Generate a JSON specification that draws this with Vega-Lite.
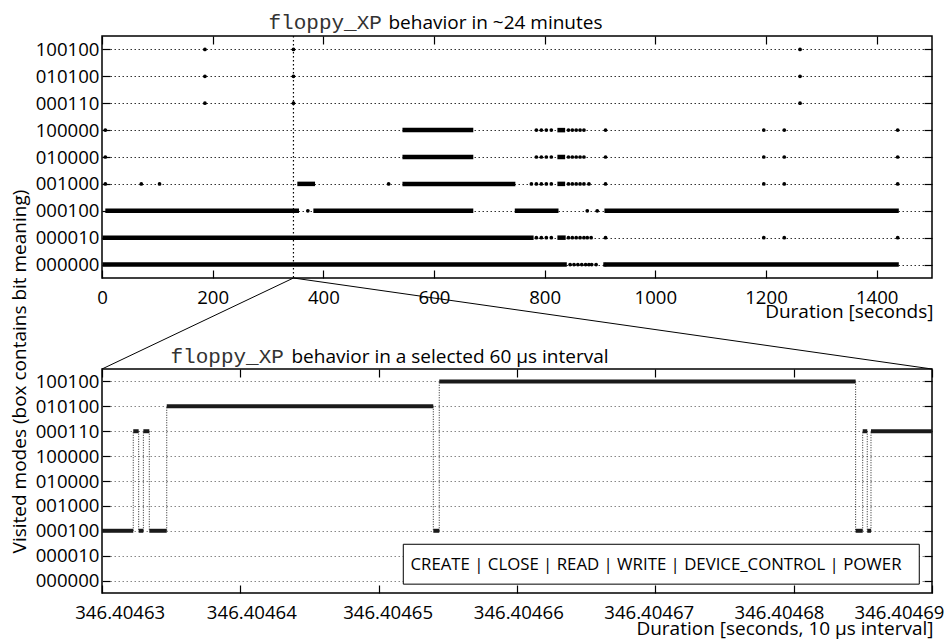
{
  "$schema": "https://vega.github.io/schema/vega-lite/v6.json",
  "background": "white",
  "padding": {"left": 9, "top": 10, "right": 4, "bottom": 4},
  "bounds": "flush",
  "spacing": 91,
  "config": {
    "font": "Open Sans",
    "view": {"stroke": "black", "strokeWidth": 1.5},
    "axis": {
      "domain": false, "grid": false, "labelFontSize": 18.6, "labelColor": "black",
      "titleFontSize": 19, "titleFontWeight": "normal", "titleColor": "black",
      "tickColor": "black", "tickSize": -8, "tickWidth": 1.2, "labelPadding": 11,
      "labelFlush": false, "labelOverlap": false
    },
    "axisX": {"labelPadding": 18.5}
  },
  "datasets": {
    "topBands": [
      {"mode": "100000", "start": 543, "end": 671},
      {"mode": "100000", "start": 823, "end": 837},
      {"mode": "010000", "start": 543, "end": 671},
      {"mode": "010000", "start": 823, "end": 837},
      {"mode": "001000", "start": 353, "end": 385},
      {"mode": "001000", "start": 543, "end": 747},
      {"mode": "001000", "start": 823, "end": 837},
      {"mode": "000100", "start": 6, "end": 356},
      {"mode": "000100", "start": 382, "end": 671},
      {"mode": "000100", "start": 746, "end": 825},
      {"mode": "000100", "start": 908, "end": 1440},
      {"mode": "000010", "start": 1, "end": 780},
      {"mode": "000010", "start": 823, "end": 838},
      {"mode": "000000", "start": 1, "end": 840},
      {"mode": "000000", "start": 906, "end": 1440}
    ],
    "topDots": [
      {"mode": "100100", "t": 186}, {"mode": "100100", "t": 346}, {"mode": "100100", "t": 1261.5},
      {"mode": "010100", "t": 186}, {"mode": "010100", "t": 346}, {"mode": "010100", "t": 1261.5},
      {"mode": "000110", "t": 186}, {"mode": "000110", "t": 346}, {"mode": "000110", "t": 1261.5},
      {"mode": "100000", "t": 6}, {"mode": "100000", "t": 785}, {"mode": "100000", "t": 794}, {"mode": "100000", "t": 803}, {"mode": "100000", "t": 812}, {"mode": "100000", "t": 843}, {"mode": "100000", "t": 850}, {"mode": "100000", "t": 857}, {"mode": "100000", "t": 864}, {"mode": "100000", "t": 871}, {"mode": "100000", "t": 910}, {"mode": "100000", "t": 1196}, {"mode": "100000", "t": 1233}, {"mode": "100000", "t": 1438},
      {"mode": "010000", "t": 6}, {"mode": "010000", "t": 785}, {"mode": "010000", "t": 794}, {"mode": "010000", "t": 803}, {"mode": "010000", "t": 812}, {"mode": "010000", "t": 843}, {"mode": "010000", "t": 850}, {"mode": "010000", "t": 857}, {"mode": "010000", "t": 864}, {"mode": "010000", "t": 871}, {"mode": "010000", "t": 910}, {"mode": "010000", "t": 1196}, {"mode": "010000", "t": 1233}, {"mode": "010000", "t": 1438},
      {"mode": "001000", "t": 6}, {"mode": "001000", "t": 71}, {"mode": "001000", "t": 104}, {"mode": "001000", "t": 518}, {"mode": "001000", "t": 776}, {"mode": "001000", "t": 785}, {"mode": "001000", "t": 794}, {"mode": "001000", "t": 803}, {"mode": "001000", "t": 812}, {"mode": "001000", "t": 843}, {"mode": "001000", "t": 850}, {"mode": "001000", "t": 857}, {"mode": "001000", "t": 864}, {"mode": "001000", "t": 871}, {"mode": "001000", "t": 880}, {"mode": "001000", "t": 910}, {"mode": "001000", "t": 1196}, {"mode": "001000", "t": 1233}, {"mode": "001000", "t": 1438},
      {"mode": "000100", "t": 372}, {"mode": "000100", "t": 877}, {"mode": "000100", "t": 895},
      {"mode": "000010", "t": 785}, {"mode": "000010", "t": 794}, {"mode": "000010", "t": 803}, {"mode": "000010", "t": 812}, {"mode": "000010", "t": 843}, {"mode": "000010", "t": 850}, {"mode": "000010", "t": 857}, {"mode": "000010", "t": 864}, {"mode": "000010", "t": 871}, {"mode": "000010", "t": 877}, {"mode": "000010", "t": 884}, {"mode": "000010", "t": 910}, {"mode": "000010", "t": 1196}, {"mode": "000010", "t": 1233}, {"mode": "000010", "t": 1438},
      {"mode": "000000", "t": 846}, {"mode": "000000", "t": 853}, {"mode": "000000", "t": 860}, {"mode": "000000", "t": 867}, {"mode": "000000", "t": 874}, {"mode": "000000", "t": 880}, {"mode": "000000", "t": 885}, {"mode": "000000", "t": 893}, {"mode": "000000", "t": 910}
    ],
    "segments": [
      {"mode": "000100", "start": 346.40463000, "end": 346.40463226},
      {"mode": "000110", "start": 346.40463226, "end": 346.40463265},
      {"mode": "000100", "start": 346.40463265, "end": 346.40463299},
      {"mode": "000110", "start": 346.40463299, "end": 346.40463342},
      {"mode": "000100", "start": 346.40463342, "end": 346.40463468},
      {"mode": "010100", "start": 346.40463468, "end": 346.40465395},
      {"mode": "000100", "start": 346.40465395, "end": 346.40465438},
      {"mode": "100100", "start": 346.40465438, "end": 346.40468448},
      {"mode": "000100", "start": 346.40468448, "end": 346.40468499},
      {"mode": "000110", "start": 346.40468499, "end": 346.40468532},
      {"mode": "000100", "start": 346.40468532, "end": 346.40468559},
      {"mode": "000110", "start": 346.40468559, "end": 346.40469000}
    ],
    "transitions": [
      {"t": 346.40463226, "from": "000100", "to": "000110"},
      {"t": 346.40463265, "from": "000110", "to": "000100"},
      {"t": 346.40463299, "from": "000100", "to": "000110"},
      {"t": 346.40463342, "from": "000110", "to": "000100"},
      {"t": 346.40463468, "from": "000100", "to": "010100"},
      {"t": 346.40465395, "from": "010100", "to": "000100"},
      {"t": 346.40465438, "from": "000100", "to": "100100"},
      {"t": 346.40468448, "from": "100100", "to": "000100"},
      {"t": 346.40468499, "from": "000100", "to": "000110"},
      {"t": 346.40468532, "from": "000110", "to": "000100"},
      {"t": 346.40468559, "from": "000100", "to": "000110"}
    ]
  },
  "vconcat": [
    {
      "width": 830,
      "height": 242,
      "layer": [
        {
          "data": {"name": "topBands"},
          "mark": {"type": "rule", "strokeWidth": 4.5, "color": "black"},
          "encoding": {
            "x": {
              "field": "start", "type": "quantitative",
              "scale": {"domain": [0, 1500], "nice": false, "zero": false},
              "axis": {
                "orient": "bottom", "values": [0, 200, 400, 600, 800, 1000, 1200, 1400], "format": "d",
                "title": "Duration [seconds]", "titleX": 831, "titleY": 39,
                "titleAlign": "right", "titleBaseline": "alphabetic"
              }
            },
            "x2": {"field": "end"},
            "y": {
              "field": "mode", "type": "ordinal",
              "scale": {"type": "point", "domain": ["100100", "010100", "000110", "100000", "010000", "001000", "000100", "000010", "000000"], "padding": 0.5},
              "axis": {
                "orient": "left", "grid": true, "gridColor": "#333", "gridDash": [1.5, 2.5], "gridWidth": 1,
                "title": "Visited modes (box contains bit meaning)", "titleX": -77, "titleY": 335,
                "titleAngle": 270, "titleAlign": "center", "titleBaseline": "alphabetic"
              }
            }
          }
        },
        {
          "data": {"name": "topDots"},
          "mark": {"type": "circle", "size": 14, "color": "black", "opacity": 1},
          "encoding": {
            "x": {
              "field": "t", "type": "quantitative",
              "axis": {
                "orient": "top", "values": [0, 200, 400, 600, 800, 1000, 1200, 1400], "labels": false,
                "title": "floppy_XP", "titleFont": "Liberation Mono", "titleFontSize": 21, "titleColor": "#333",
                "titleX": 166, "titleY": -8, "titleAlign": "left", "titleBaseline": "alphabetic"
              }
            },
            "y": {"field": "mode", "type": "ordinal", "axis": {"orient": "right", "labels": false, "title": null}}
          }
        },
        {
          "data": {"values": [{}]},
          "mark": {"type": "rule", "color": "black", "strokeDash": [1.5, 2.5], "strokeWidth": 1.2},
          "encoding": {
            "x": {
              "datum": 346, "type": "quantitative",
              "axis": {
                "orient": "top", "ticks": false, "labels": false,
                "title": "behavior in ~24 minutes", "titleX": 286, "titleY": -8,
                "titleAlign": "left", "titleBaseline": "alphabetic"
              }
            }
          }
        },
        {
          "data": {"values": [{}]},
          "mark": {"type": "rule", "color": "black", "strokeWidth": 1},
          "encoding": {
            "x": {"datum": 346, "type": "quantitative", "axis": null},
            "x2": {"datum": 0},
            "y": {"value": 242},
            "y2": {"value": 333}
          }
        },
        {
          "data": {"values": [{}]},
          "mark": {"type": "rule", "color": "black", "strokeWidth": 1},
          "encoding": {
            "x": {"datum": 346, "type": "quantitative", "axis": null},
            "x2": {"datum": 1500},
            "y": {"value": 242},
            "y2": {"value": 333}
          }
        }
      ],
      "resolve": {"axis": {"x": "independent", "y": "independent"}}
    },
    {
      "width": 830,
      "height": 224,
      "layer": [
        {
          "data": {"name": "segments"},
          "mark": {"type": "rule", "strokeWidth": 4, "color": "#1a1a1a"},
          "encoding": {
            "x": {
              "field": "start", "type": "quantitative",
              "scale": {"domain": [346.40463, 346.40469], "nice": false, "zero": false},
              "axis": {
                "orient": "bottom", "values": [346.40463, 346.40464, 346.40465, 346.40466, 346.40467, 346.40468, 346.40469],
                "format": ".5f",
                "title": "Duration [seconds, 10 μs interval]", "titleX": 831, "titleY": 41,
                "titleAlign": "right", "titleBaseline": "alphabetic",
                "labelOffset": {
                  "condition": [
                    {"test": "datum.value < 346.404635", "value": 17.7},
                    {"test": "datum.value < 346.404645", "value": 11},
                    {"test": "datum.value < 346.404655", "value": 9},
                    {"test": "datum.value < 346.404665", "value": 1.3},
                    {"test": "datum.value < 346.404675", "value": -6.6},
                    {"test": "datum.value < 346.404685", "value": -14.7}
                  ],
                  "value": -33
                }
              }
            },
            "x2": {"field": "end"},
            "y": {
              "field": "mode", "type": "ordinal",
              "scale": {"type": "point", "domain": ["100100", "010100", "000110", "100000", "010000", "001000", "000100", "000010", "000000"], "padding": 0.5},
              "axis": {"orient": "left", "grid": true, "gridColor": "#888", "gridDash": [1.5, 2.5], "gridWidth": 1, "title": null}
            }
          }
        },
        {
          "data": {"name": "transitions"},
          "mark": {"type": "rule", "strokeDash": [1, 1.5], "strokeWidth": 1, "color": "#222"},
          "encoding": {
            "x": {
              "field": "t", "type": "quantitative",
              "axis": {
                "orient": "top", "values": [346.40463, 346.40464, 346.40465, 346.40466, 346.40467, 346.40468, 346.40469], "labels": false,
                "title": "floppy_XP", "titleFont": "Liberation Mono", "titleFontSize": 21, "titleColor": "#333",
                "titleX": 68, "titleY": -6.3, "titleAlign": "left", "titleBaseline": "alphabetic"
              }
            },
            "y": {"field": "from", "type": "ordinal", "axis": {"orient": "right", "labels": false, "title": null}},
            "y2": {"field": "to"}
          }
        },
        {
          "data": {"values": [{}]},
          "mark": {"type": "rect", "fill": "white", "stroke": "black", "strokeWidth": 1, "yOffset": -11.4, "y2Offset": 3.6},
          "encoding": {
            "x": {
              "datum": 346.40465178, "type": "quantitative",
              "axis": {
                "orient": "top", "ticks": false, "labels": false,
                "title": "behavior in a selected 60 μs interval", "titleX": 189, "titleY": -6.3,
                "titleAlign": "left", "titleBaseline": "alphabetic"
              }
            },
            "x2": {"datum": 346.40468908},
            "y": {"datum": "000010", "type": "ordinal", "axis": null},
            "y2": {"datum": "000000"}
          }
        },
        {
          "data": {"values": [{}]},
          "mark": {"type": "text", "align": "left", "baseline": "middle", "fontSize": 16.8, "dy": 9, "color": "black"},
          "encoding": {
            "x": {"datum": 346.4046523, "type": "quantitative", "axis": null},
            "y": {"datum": "000010", "type": "ordinal", "axis": null},
            "text": {"value": "CREATE | CLOSE | READ | WRITE | DEVICE_CONTROL | POWER"}
          }
        }
      ],
      "resolve": {"axis": {"x": "independent", "y": "independent"}}
    }
  ]
}
